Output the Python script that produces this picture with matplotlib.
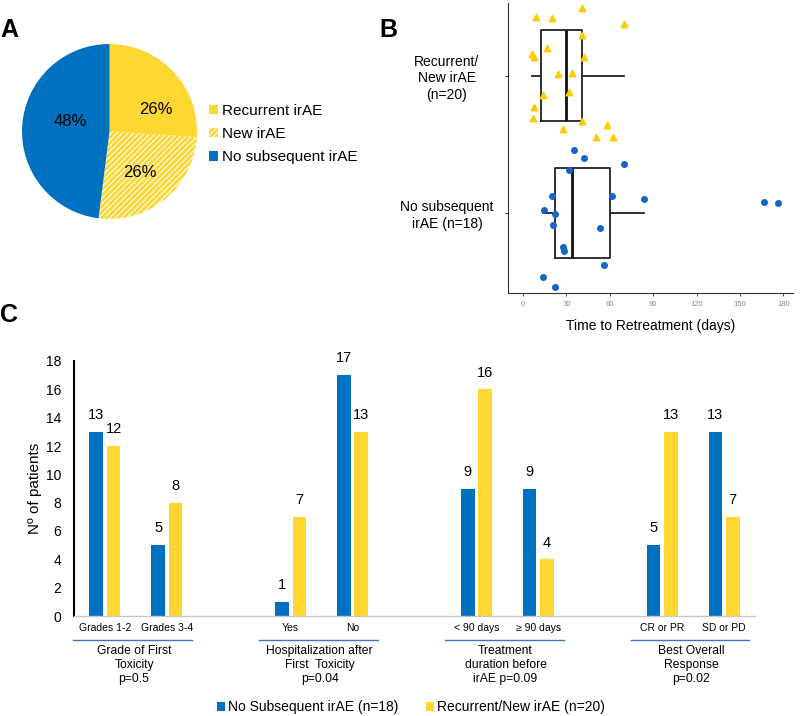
import numpy as np
import matplotlib.pyplot as plt
from matplotlib.patches import Patch
from matplotlib.lines import Line2D

plt.rcParams['font.family'] = ['Liberation Sans', 'DejaVu Sans']
plt.rcParams['hatch.color'] = 'white'
plt.rcParams['hatch.linewidth'] = 0.8

BLUE = '#0070C0'
YELLOW = '#FFD733'

# panel A
pie_labels = ['Recurrent irAE', 'New irAE', 'No subsequent irAE']
pie_values = [26, 26, 48]

# panel B (days, y jitter as drawn)
rec_days = [8.8, 19.8, 40.5, 69.8, 40.5, 16.8, 6.4, 7.6, 42.4, 24, 34, 14, 32,
            7.8, 7.1, 40.5, 27.6, 58.3, 50.4, 62.4]
rec_jitter = [0.43, 0.42, 0.49, 0.38, 0.30, 0.20, 0.16, 0.14, 0.14, 0.01, 0.02,
              -0.14, -0.12, -0.23, -0.31, -0.33, -0.39, -0.36, -0.45, -0.45]
nosub_days = [35, 42.2, 69.8, 32, 20.3, 61.7, 83.9, 166.5, 176, 14.7, 22.1, 20.5,
              53.4, 27.6, 28.1, 55.8, 14, 21.9]
nosub_jitter = [0.46, 0.40, 0.36, 0.31, 0.12, 0.12, 0.10, 0.08, 0.07, 0.02, -0.01,
                -0.09, -0.11, -0.25, -0.28, -0.38, -0.47, -0.54]
box_labels = ['No subsequent\nirAE (n=18)', 'Recurrent/\nNew irAE\n(n=20)']

# panel C
sub_labels = ['Grades 1-2', 'Grades 3-4', 'Yes', 'No', '< 90 days', '\u2265 90 days',
              'CR or PR', 'SD or PD']
group_titles = ['Grade of First\nToxicity\np=0.5', 'Hospitalization after\nFirst  Toxicity\np=0.04',
                'Treatment\nduration before\nirAE p=0.09', 'Best Overall\nResponse\np=0.02']
no_sub = [13, 5, 1, 17, 9, 9, 5, 13]
rec_new = [12, 8, 7, 13, 16, 4, 13, 7]

fig = plt.figure(figsize=(8, 7.16), dpi=100)

# ---------- A ----------
axA = fig.add_axes([22 / 800, 1 - 219 / 716, 175 / 800, 175 / 716])
wedges, texts, autotexts = axA.pie(pie_values, colors=[YELLOW, YELLOW, BLUE], startangle=90,
                                   counterclock=False, autopct='%.0f%%', pctdistance=0.56,
                                   textprops={'fontsize': 12})
wedges[1].set_hatch('//////')
# excel-style label placement
for t, xy in zip(autotexts, [(0.53, 0.25), (0.345, -0.466), (-0.45, 0.11)]):
    t.set_position(xy)
axA.set_xlim(-1, 1)
axA.set_ylim(-1, 1)
axA.set_aspect('equal')
handles = [Patch(facecolor=w.get_facecolor(), hatch=w.get_hatch()) for w in wedges]
fig.legend(handles, pie_labels, loc='center left', bbox_to_anchor=(195 / 800, 1 - 134 / 716),
           frameon=False, fontsize=11, handlelength=0.6, handleheight=0.6, handletextpad=0.3,
           labelspacing=0.6)

# ---------- B ----------
axB = fig.add_axes([508 / 800, 1 - 293 / 716, 285 / 800, 290 / 716])
bp = axB.boxplot([nosub_days, rec_days], positions=[0, 1], vert=False, widths=0.66,
                 showfliers=False, showcaps=False, patch_artist=False,
                 boxprops=dict(color='#222222', lw=1.3),
                 whiskerprops=dict(color='#222222', lw=1.3),
                 medianprops=dict(color='#111111', lw=2))
axB.scatter(rec_days, 1 + np.array(rec_jitter), marker='^', s=22, color='#FFCC00', zorder=3)
axB.scatter(nosub_days, 0 + np.array(nosub_jitter), marker='o', s=16, color='#1565C8', zorder=3)
axB.set_xlim(-10.4, 186.6)
axB.set_ylim(-0.584, 1.53)
axB.set_xticks(np.arange(0, 181, 30))
axB.tick_params(axis='x', labelsize=5.5, labelcolor='#888888', length=2, color='#555555')
axB.set_yticks([0, 1])
axB.set_yticklabels(box_labels, fontsize=10, ha='center', multialignment='center')
axB.tick_params(axis='y', length=2, pad=42, color='#333333')
for s in ['top', 'right']:
    axB.spines[s].set_visible(False)
for s in ['left', 'bottom']:
    axB.spines[s].set_color('#333333')
axB.set_xlabel('Time to Retreatment (days)', fontsize=10, labelpad=8)

# ---------- C ----------
axC = fig.add_axes([74 / 800, 1 - 616 / 716, 681 / 800, 255 / 716])
pos = np.array([0, 1, 3, 4, 6, 7, 9, 10])
bw = 0.22
b1 = axC.bar(pos - 0.14, no_sub, bw, color=BLUE, label='No Subsequent irAE (n=18)')
b2 = axC.bar(pos + 0.14, rec_new, bw, color=YELLOW, label='Recurrent/New irAE (n=20)')
axC.bar_label(b1, padding=7, fontsize=10.5)
axC.bar_label(b2, padding=7, fontsize=10.5)
axC.set_xlim(-0.5, 10.5)
axC.set_ylim(0, 18)
axC.set_yticks(range(0, 19, 2))
axC.tick_params(axis='y', length=0, labelsize=10, pad=9)
axC.set_xticks(pos)
axC.set_xticklabels(sub_labels, fontsize=7.5)
axC.tick_params(axis='x', length=0, pad=5)
for s in ['top', 'right']:
    axC.spines[s].set_visible(False)
axC.spines['left'].set_linewidth(1.5)
axC.spines['bottom'].set_color('#c8c8c8')
axC.spines['bottom'].set_linewidth(1)
axC.set_ylabel('N\u00ba of patients', fontsize=11, labelpad=3)
tr = axC.get_xaxis_transform()
for i, title in enumerate(group_titles):
    c = 3 * i + 0.45
    axC.add_line(Line2D([c - 0.96, c + 0.96], [-0.094, -0.094], transform=tr, color='#4472C4',
                        lw=1, clip_on=False))
    axC.text(c + 0.02, -0.113, title, transform=tr, ha='center', va='top', fontsize=8.7,
             linespacing=1.25)
fig.legend(handles=[b1, b2], loc='center', bbox_to_anchor=(411 / 800, 1 - 707 / 716), ncol=2,
           frameon=False, fontsize=10, handlelength=0.55, handleheight=0.6, handletextpad=0.25,
           columnspacing=2.0)

# panel letters
fig.text(0 / 800, 1 - 30 / 716, 'A', fontsize=18, fontweight='bold', va='center')
fig.text(379 / 800, 1 - 30 / 716, 'B', fontsize=18, fontweight='bold', va='center')
fig.text(0 / 800, 1 - 315 / 716, 'C', fontsize=18, fontweight='bold', va='center')

fig.savefig('out.png', dpi=100)
